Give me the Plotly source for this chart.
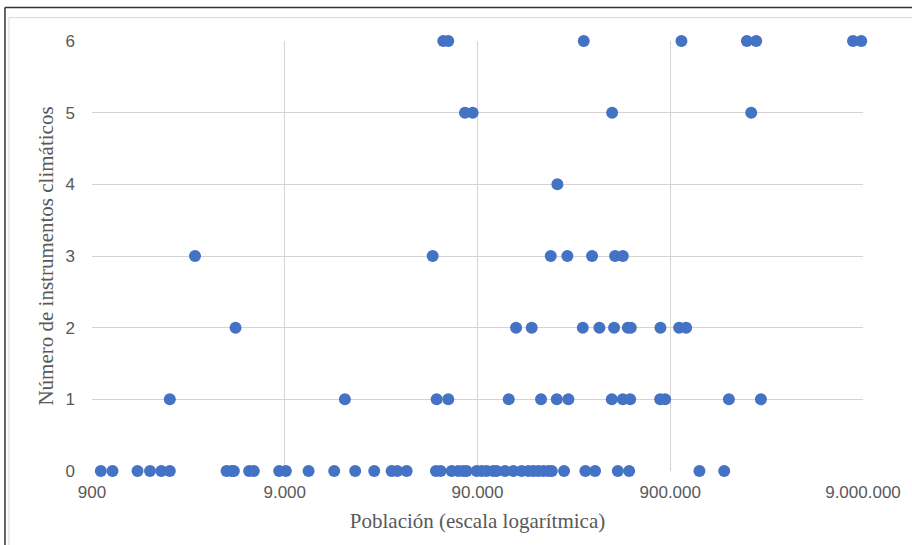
import plotly.graph_objects as go

# Population (x) and number of climate instruments (y)
pop_0 = [1000, 1150, 1550, 1800, 2060, 2280, 4490, 4770, 4900, 5880, 6220,
         8420, 9120, 11960, 16250, 20880, 26210, 32270, 34500, 38610, 54790,
         57960, 66100, 71540, 75930, 79090, 89100, 94590, 100440, 108720,
         113220, 125010, 138150, 152640, 165150, 175410, 186210, 197640,
         209880, 218610, 253080, 326520, 366660, 481140, 550710, 1275840,
         1714500]
pop_1 = [2280, 18460, 55260, 63480, 130680, 192240, 232020, 266490, 447840,
         510750, 557370, 797760, 846720, 1813500, 2658600]
pop_2 = [5000, 142650, 171990, 316530, 386100, 460080, 542340, 561870,
         800550, 1000800, 1088100]
pop_3 = [3080, 52680, 215910, 263430, 353700, 465660, 510750]
pop_4 = [233730]
pop_5 = [77490, 84960, 449370, 2367900]
pop_6 = [59800, 63480, 320310, 1028700, 2248200, 2513700, 7984800, 8817300]

groups = [(0, pop_0), (1, pop_1), (2, pop_2), (3, pop_3), (4, pop_4),
          (5, pop_5), (6, pop_6)]

x_vals = []
y_vals = []
for n, pops in groups:
    x_vals += pops
    y_vals += [n] * len(pops)

x_tickvals = [900, 9000, 90000, 900000, 9000000]
x_ticktext = ["900", "9.000", "90.000", "900.000", "9.000.000"]
y_tickvals = [0, 1, 2, 3, 4, 5, 6]

fig = go.Figure()
fig.add_trace(go.Scatter(
    x=x_vals, y=y_vals, mode="markers",
    marker=dict(color="#4472C4", size=12, line=dict(width=0)),
    cliponaxis=False, showlegend=False,
))

grid = "#d4d4d4"
tick_font = dict(family="Liberation Sans", size=17, color="#595959")
title_font = dict(family="Liberation Serif", size=21, color="#595959")

fig.update_layout(
    width=912, height=545,
    margin=dict(l=92, r=49, t=41, b=74),
    paper_bgcolor="white", plot_bgcolor="white",
    xaxis=dict(
        type="log", range=[2.95424, 6.95424],
        tickvals=x_tickvals, ticktext=x_ticktext,
        showgrid=True, gridcolor=grid, gridwidth=1,
        zeroline=False, showline=False, ticks="",
        tickfont=tick_font, ticklabelstandoff=9,
        title=dict(text="Población (escala logarítmica)", font=title_font,
                   standoff=12),
    ),
    yaxis=dict(
        range=[0, 6], tickvals=y_tickvals,
        showgrid=True, gridcolor=grid, gridwidth=1,
        zeroline=False, showline=False, ticks="",
        tickfont=tick_font, ticklabelstandoff=16,
        title=dict(text="Número de instrumentos climáticos", font=title_font,
                   standoff=6),
    ),
    shapes=[
        # outer dark frame (top and left)
        dict(type="line", xref="paper", yref="paper", x0=-0.1129, x1=1.2,
             y0=1.0777, y1=1.0777, line=dict(color="#333333", width=1.5)),
        dict(type="line", xref="paper", yref="paper", x0=-0.1129, x1=-0.1129,
             y0=1.0777, y1=-0.3, line=dict(color="#333333", width=1.5)),
        # inner light frame
        dict(type="line", xref="paper", yref="paper", x0=-0.1077, x1=1.2,
             y0=1.0544, y1=1.0544, line=dict(color="#d9d9d9", width=1)),
        dict(type="line", xref="paper", yref="paper", x0=-0.1077, x1=-0.1077,
             y0=1.0544, y1=-0.3, line=dict(color="#d9d9d9", width=1)),
    ],
)

fig.write_html("out.html", config={"displayModeBar": False},
               post_script="document.body.style.margin='0';")
